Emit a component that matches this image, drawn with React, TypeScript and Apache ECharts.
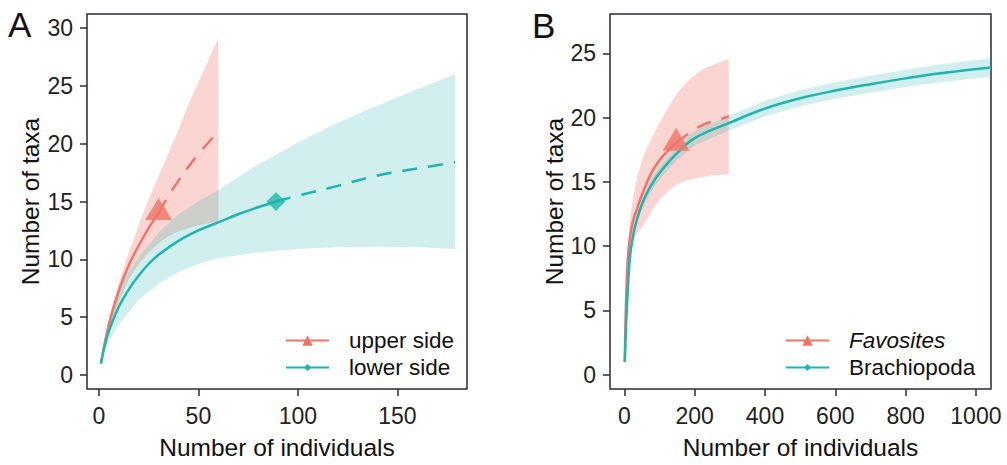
import React, { useEffect, useRef } from "react";
import * as echarts from "echarts";

// ---------- Panel A data ----------
const aUpperX = [1, 5, 10, 15, 20, 25, 30];
const aUpperY = [1, 4.4, 7.3, 9.5, 11.2, 12.7, 14];
const aUpperExtX = [30, 35, 40, 45, 50, 55, 60];
const aUpperExtY = [14, 15.5, 16.8, 18.0, 19.1, 20.1, 21.0];
const aUpperBandX = [1, 3, 5, 10, 15, 20, 25, 30, 35, 40, 45, 50, 55, 60];
const aUpperBandHi = [1, 3.0, 4.7, 8.0, 10.6, 13.0, 15.2, 17.2, 19.2, 21.2, 23.4, 25.3, 27.2, 29.1];
const aUpperBandLo = [1, 2.4, 3.9, 6.4, 8.3, 9.6, 10.6, 11.4, 12.0, 12.4, 12.7, 12.95, 13.1, 13.25];
const aUpperObs = [30, 14];

const aLowerX = [1, 3, 5, 10, 15, 20, 25, 30, 40, 50, 60, 70, 80, 89];
const aLowerY = [1, 2.6, 3.8, 5.9, 7.4, 8.6, 9.6, 10.4, 11.6, 12.5, 13.2, 13.9, 14.5, 15.0];
const aLowerExtX = [89, 100, 120, 140, 160, 179];
const aLowerExtY = [15.0, 15.5, 16.35, 17.25, 17.85, 18.4];
const aLowerBandX = [1, 3, 5, 10, 15, 20, 30, 40, 50, 60, 80, 100, 120, 140, 160, 179];
const aLowerBandHi = [1, 3.2, 4.8, 7.2, 8.9, 10.2, 12.3, 13.9, 15.0, 16.0, 18.2, 20.1, 21.8, 23.3, 24.7, 26.0];
const aLowerBandLo = [1, 2.2, 3.0, 4.4, 5.4, 6.5, 7.9, 8.9, 9.6, 10.1, 10.6, 10.9, 11.05, 11.1, 11.05, 10.9];
const aLowerObs = [89, 15];

const aXTicks = [0, 50, 100, 150];
const aYTicks = [0, 5, 10, 15, 20, 25, 30];

// ---------- Panel B data ----------
const bFavX = [1, 3, 5, 8, 12, 17, 25, 36, 50, 75, 100, 125, 147];
const bFavY = [1, 4.0, 6.0, 8.2, 9.8, 10.9, 12.0, 12.9, 14.0, 15.6, 16.7, 17.45, 18.0];
const bFavExtX = [147, 175, 200, 225, 250, 275, 297];
const bFavExtY = [18.0, 18.6, 19.1, 19.45, 19.7, 19.9, 20.1];
const bFavBandX = [1, 3, 5, 8, 12, 17, 25, 36, 50, 65, 80, 100, 125, 150, 175, 200, 225, 250, 275, 297];
const bFavBandHi = [1, 4.3, 6.6, 9.0, 10.9, 12.3, 13.8, 15.3, 16.7, 17.7, 18.5, 19.6, 20.8, 21.9, 22.7, 23.3, 23.8, 24.1, 24.35, 24.55];
const bFavBandLo = [1, 3.6, 5.4, 7.3, 8.7, 9.5, 10.3, 11.0, 11.5, 12.1, 12.8, 13.6, 14.3, 14.8, 15.1, 15.25, 15.4, 15.5, 15.55, 15.6];
const bFavObs = [147, 18];

const bBraX = [1, 5, 10, 16, 21, 30, 45, 60, 80, 100, 147, 200, 300, 400, 500, 600, 700, 800, 900, 1043];
const bBraY = [1, 4.0, 6.8, 9.2, 10.2, 11.5, 12.9, 13.9, 14.9, 15.7, 17.15, 18.4, 19.6, 20.7, 21.5, 22.1, 22.6, 23.05, 23.45, 23.9];
const bBraHi = [1, 4.15, 7.05, 9.5, 10.55, 11.9, 13.32, 14.35, 15.37, 16.2, 17.67, 18.95, 20.18, 21.3, 22.12, 22.74, 23.26, 23.73, 24.15, 24.62];
const bBraLo = [1, 3.85, 6.55, 8.9, 9.85, 11.1, 12.48, 13.45, 14.43, 15.2, 16.63, 17.85, 19.02, 20.1, 20.88, 21.46, 21.94, 22.37, 22.75, 23.18];

const bXTicks = [0, 200, 400, 600, 800, 1000];
const bYTicks = [0, 5, 10, 15, 20, 25];

// ---------- styles ----------
const RED = "#F07468";
const TEAL = "#1FB5AE";
const RED_FILL = "rgba(240,115,106,0.30)";
const TEAL_FILL = "rgba(32,178,175,0.21)";
const AXIS = "#2a2a3a";
const FONT = "'Liberation Sans', Arial, Helvetica, sans-serif";

const pairs = (xs: number[], ys: number[]) => xs.map((x, i) => [x, ys[i]]);

function band(name: string, xs: number[], hi: number[], lo: number[], fill: string, gi: number) {
  return {
    type: "custom",
    name,
    xAxisIndex: gi,
    yAxisIndex: gi,
    silent: true,
    data: [[xs[0], lo[0]]],
    renderItem: (_p: any, api: any) => {
      const top = xs.map((x, i) => api.coord([x, hi[i]]));
      const bot = xs.map((x, i) => api.coord([x, lo[i]])).reverse();
      return {
        type: "polygon",
        shape: { points: top.concat(bot) },
        style: { fill, stroke: "none" },
      };
    },
    z: 1,
  };
}

function line(name: string, xs: number[], ys: number[], color: string, dashed: boolean, gi: number, symbol: string) {
  return {
    type: "line",
    name,
    xAxisIndex: gi,
    yAxisIndex: gi,
    data: pairs(xs, ys),
    smooth: 0.4,
    symbol,
    showSymbol: false,
    lineStyle: { color, width: 2.5, type: dashed ? [15, 11] : "solid" },
    itemStyle: { color },
    emphasis: { disabled: true },
    silent: true,
    z: 3,
  };
}

function marker(name: string, pt: number[], color: string, symbol: string, size: number[], offset: number[], gi: number) {
  return {
    type: "scatter",
    name,
    xAxisIndex: gi,
    yAxisIndex: gi,
    data: [pt],
    symbol,
    symbolSize: size,
    symbolOffset: offset,
    itemStyle: { color },
    silent: true,
    z: 4,
  };
}

const tickLabel = (margin: number, ticks: number[]) => ({
  margin,
  customValues: ticks,
  formatter: (v: number) => `{v|${v}}`,
  rich: { v: { fontFamily: FONT, fontSize: 23, color: "#222" } },
});

function xAxis(gi: number, min: number, max: number, ticks: number[]) {
  return {
    type: "value",
    gridIndex: gi,
    position: "bottom",
    min,
    max,
    name: "Number of individuals",
    nameLocation: "middle",
    nameGap: 46,
    nameTextStyle: { fontFamily: FONT, fontSize: 24.5, color: "#111" },
    axisLine: { show: false, onZero: false },
    axisTick: { show: true, length: 7, lineStyle: { color: AXIS, width: 1.5 }, customValues: ticks },
    axisLabel: tickLabel(15, ticks),
    splitLine: { show: false },
  };
}

function yAxis(gi: number, min: number, max: number, ticks: number[], gap: number) {
  return {
    type: "value",
    gridIndex: gi,
    position: "left",
    min,
    max,
    name: "Number of taxa",
    nameLocation: "middle",
    nameGap: gap,
    nameTextStyle: { fontFamily: FONT, fontSize: 24.5, color: "#111" },
    axisLine: { show: false, onZero: false },
    axisTick: { show: true, length: 7, lineStyle: { color: AXIS, width: 1.5 }, customValues: ticks },
    axisLabel: tickLabel(14, ticks),
    splitLine: { show: false },
  };
}

function legend(name: string, left: number, top: number, itemH: number, italic: boolean) {
  return {
    data: [name],
    left,
    top,
    padding: 0,
    itemWidth: 43,
    itemHeight: itemH,
    selectedMode: false,
    formatter: (n: string) => `{t|${n}}`,
    textStyle: {
      rich: {
        t: {
          fontFamily: FONT,
          fontSize: 22.5,
          color: "#111",
          fontStyle: italic ? "italic" : "normal",
          padding: [0, 0, 0, 15],
        },
      },
    },
  };
}

export default function App() {
  const ref = useRef<HTMLDivElement>(null);
  useEffect(() => {
    if (!ref.current) return;
    const chart = echarts.init(ref.current, undefined, { renderer: "svg" });
    chart.setOption({
      animation: false,
      backgroundColor: "#fff",
      grid: [
        { left: 87, top: 14, width: 380, height: 381, show: true, borderColor: AXIS, borderWidth: 1.5, backgroundColor: "transparent" },
        { left: 610, top: 14, width: 381, height: 382, show: true, borderColor: AXIS, borderWidth: 1.5, backgroundColor: "transparent" },
      ],
      xAxis: [xAxis(0, -6, 185, aXTicks), xAxis(1, -41, 1043, bXTicks)],
      yAxis: [yAxis(0, -1.2, 31.2, aYTicks, 44), yAxis(1, -1.12, 28.06, bYTicks, 43)],
      legend: [
        legend("upper side", 285, 329, 13, false),
        legend("lower side", 285, 356, 9, false),
        legend("Favosites", 785, 329, 13, true),
        legend("Brachiopoda", 785, 356, 9, false),
      ],
      graphic: [
        { type: "text", left: 8, top: 7, style: { text: "A", font: `35px ${FONT}`, fill: "#111" } },
        { type: "text", left: 532, top: 8, style: { text: "B", font: `35px ${FONT}`, fill: "#111" } },
      ],
      series: [
        band("upper band", aUpperBandX, aUpperBandHi, aUpperBandLo, RED_FILL, 0),
        band("lower band", aLowerBandX, aLowerBandHi, aLowerBandLo, TEAL_FILL, 0),
        line("upper side", aUpperX, aUpperY, RED, false, 0, "triangle"),
        line("upper side extrapolated", aUpperExtX, aUpperExtY, RED, true, 0, "none"),
        line("lower side", aLowerX, aLowerY, TEAL, false, 0, "diamond"),
        line("lower side extrapolated", aLowerExtX, aLowerExtY, TEAL, true, 0, "none"),
        marker("upper side observed", aUpperObs, RED, "triangle", [27, 22], [0, -4], 0),
        marker("lower side observed", aLowerObs, TEAL, "diamond", [19, 19], [0, 0], 0),

        band("Favosites band", bFavBandX, bFavBandHi, bFavBandLo, RED_FILL, 1),
        band("Brachiopoda band", bBraX, bBraHi, bBraLo, TEAL_FILL, 1),
        line("Favosites", bFavX, bFavY, RED, false, 1, "triangle"),
        line("Favosites extrapolated", bFavExtX, bFavExtY, RED, true, 1, "none"),
        line("Brachiopoda", bBraX, bBraY, TEAL, false, 1, "diamond"),
        marker("Favosites observed", bFavObs, RED, "triangle", [27, 23], [0, -4], 1),
      ],
    });
    return () => chart.dispose();
  }, []);
  return <div ref={ref} style={{ position: "absolute", left: 0, top: 0, width: 1007, height: 465 }} />;
}
